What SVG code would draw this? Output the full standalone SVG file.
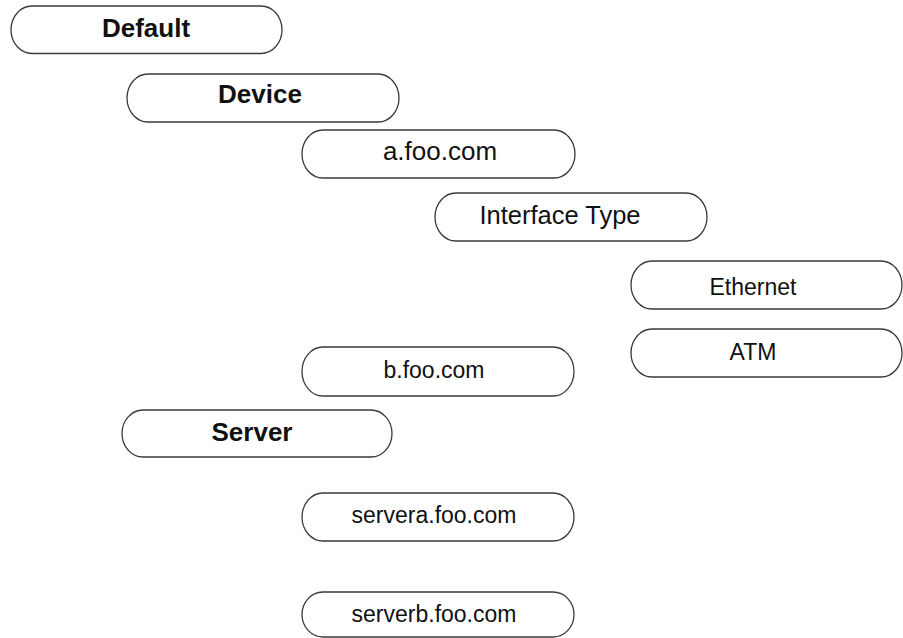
<svg xmlns="http://www.w3.org/2000/svg" width="903" height="638" viewBox="0 0 903 638">
<style>
.box{fill:#fff;stroke:#3a3a3a;stroke-width:1.3}
.t{font-family:"Liberation Sans",Arial,sans-serif;fill:#111;text-anchor:middle}
.b{font-weight:bold;font-size:26px}
.r{font-size:23px}
.l{font-size:26px}
</style>
<rect width="903" height="638" fill="#fff"/>
<g id="connectors"/>
<g id="default"><rect class="box" x="11" y="6" width="271" height="47.5" rx="21" ry="23.75"/><text class="t b" x="146" y="37">Default</text></g>
<g id="device"><rect class="box" x="127" y="74" width="272" height="48" rx="21" ry="24"/><text class="t b" x="260" y="103">Device</text></g>
<g id="afoo"><rect class="box" x="302" y="130" width="273" height="48" rx="21" ry="24"/><text class="t l" x="440" y="160">a.foo.com</text></g>
<g id="iftype"><rect class="box" x="435" y="193" width="272" height="48" rx="21" ry="24"/><text class="t" style="font-size:25.5px" x="560" y="224">Interface Type</text></g>
<g id="ethernet"><rect class="box" x="631" y="261" width="271" height="48" rx="21" ry="24"/><text class="t r" x="753" y="295">Ethernet</text></g>
<g id="atm"><rect class="box" x="631" y="329" width="271" height="48" rx="21" ry="24"/><text class="t r" x="753" y="360">ATM</text></g>
<g id="bfoo"><rect class="box" x="302" y="347" width="272" height="49" rx="21" ry="24.5"/><text class="t r" x="434" y="378">b.foo.com</text></g>
<g id="server"><rect class="box" x="122" y="410" width="270" height="47" rx="21" ry="23.5"/><text class="t b" x="252" y="441">Server</text></g>
<g id="servera"><rect class="box" x="302" y="493" width="272" height="48" rx="21" ry="24"/><text class="t r" x="434" y="523">servera.foo.com</text></g>
<g id="serverb"><rect class="box" x="302" y="592" width="272" height="45" rx="21" ry="22.5"/><text class="t r" x="434" y="622">serverb.foo.com</text></g>
</svg>
